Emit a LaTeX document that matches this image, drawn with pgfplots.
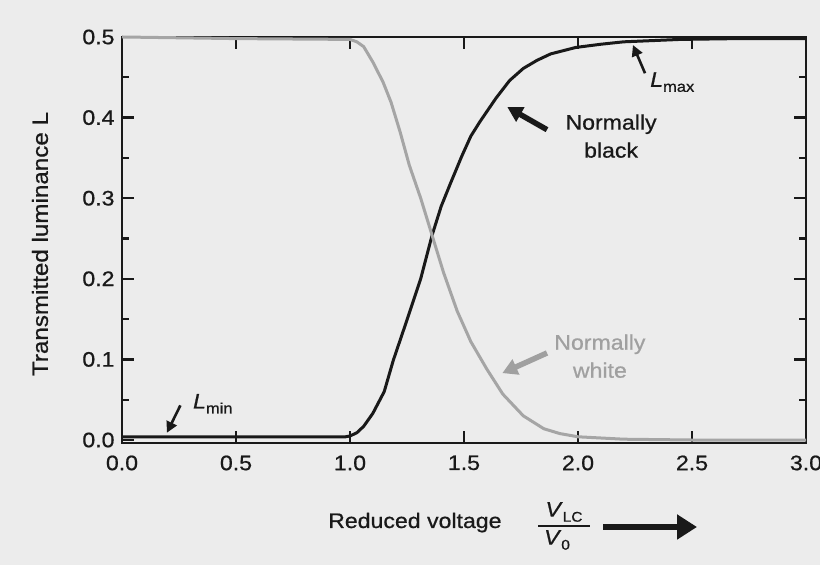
\documentclass[border=0pt]{standalone}
\usepackage{pgfplots}
\pgfplotsset{compat=1.18}
\usepackage{fontspec}
\setmainfont{Liberation Sans}[FakeStretch=1.1, FakeBold=0.7]
\usetikzlibrary{arrows.meta}
\definecolor{bg}{RGB}{236,236,236}
\definecolor{curvegray}{RGB}{165,165,165}
\definecolor{txtgray}{RGB}{160,160,160}
\definecolor{ink}{RGB}{25,25,25}
\newcommand{\fs}[1]{\fontsize{#1bp}{1.2\dimexpr #1bp\relax}\selectfont}

\pgfplotstableread{
x y
0.00 0.004
0.50 0.004
0.98 0.004
1.00 0.005
1.03 0.009
1.06 0.017
1.10 0.033
1.15 0.060
1.19 0.099
1.25 0.149
1.31 0.200
1.36 0.254
1.40 0.290
1.44 0.318
1.49 0.352
1.53 0.377
1.57 0.395
1.64 0.424
1.70 0.446
1.76 0.461
1.82 0.471
1.88 0.479
1.99 0.487
2.10 0.491
2.20 0.494
2.45 0.497
2.70 0.498
3.00 0.498
}\blackdata

\pgfplotstableread{
x y
0.00 0.500
0.50 0.498
1.00 0.497
1.03 0.494
1.06 0.488
1.10 0.469
1.145 0.444
1.18 0.419
1.22 0.382
1.26 0.341
1.31 0.300
1.36 0.254
1.41 0.208
1.47 0.160
1.53 0.122
1.60 0.088
1.67 0.057
1.76 0.030
1.85 0.014
1.92 0.008
2.00 0.004
2.20 0.001
2.50 0.000
3.00 0.000
}\whitedata

\begin{document}
\begin{tikzpicture}[x=1bp,y=1bp]
\fill[bg] (0,0) rectangle (820,565);
\useasboundingbox (0,0) rectangle (820,565);
\begin{axis}[
  at={(122bp,122bp)}, anchor=south west,
  scale only axis, width=684bp, height=406bp,
  xmin=0, xmax=3, ymin=-0.0037, ymax=0.5,
  xtick={0,0.5,...,3.0},
  ytick={0,0.1,...,0.5},
  minor y tick num=1,
  tick align=inside,
  tick pos=both,
  xticklabel pos=lower, yticklabel pos=left,
  major tick length=12bp, minor tick length=7bp,
  every tick/.style={line width=2.2bp, ink},
  axis line style={line width=2.6bp, ink},
  ticklabel style={font=\fs{21}, ink,
    /pgf/number format/fixed, /pgf/number format/fixed zerofill,
    /pgf/number format/precision=1,
    /pgf/number format/assume math mode=true},
  xticklabel style={yshift=-9bp},
  yticklabel style={xshift=-4bp},
  clip=false,
]
\addplot[ink, line width=3bp, line join=round] table[x=x,y=y] {\blackdata};
\addplot[curvegray, line width=3bp, line join=round] table[x=x,y=y] {\whitedata};

% L_max
\draw[ink, line width=2.6bp, -{Triangle[length=11bp,width=11bp]}] (axis cs:2.294,0.455) -- (axis cs:2.241,0.490);
\node[anchor=west, inner sep=0, ink, font=\fs{21}] at (axis cs:2.316,0.444) {\textit{L}\raisebox{-5bp}{\fs{15}max}};
% Normally black
\draw[ink, line width=5.5bp, -{Triangle[length=15bp,width=16bp]}] (axis cs:1.864,0.385) -- (axis cs:1.690,0.413);
\node[align=center, ink, font=\fontsize{21bp}{28bp}\selectfont, inner sep=0] at (axis cs:2.145,0.377) {Normally\\black};
% Normally white
\draw[txtgray, line width=5.5bp, -{Triangle[length=15bp,width=16bp]}] (axis cs:1.864,0.108) -- (axis cs:1.668,0.083);
\node[align=center, txtgray, font=\fontsize{21bp}{28bp}\selectfont, inner sep=0] at (axis cs:2.096,0.104) {Normally\\white};
% L_min
\draw[ink, line width=2.6bp, -{Triangle[length=11bp,width=11bp]}] (axis cs:0.256,0.043) -- (axis cs:0.197,0.009);
\node[anchor=west, inner sep=0, ink, font=\fs{21}] at (axis cs:0.311,0.045) {\textit{L}\raisebox{-5bp}{\fs{15}min}};
\end{axis}

% y label
\node[rotate=90, ink, font=\fs{22}] at (40,321) {Transmitted luminance L};
% x label
\node[anchor=base west, inner sep=0, ink, font=\fs{21}] at (328,37) {Reduced voltage};
\draw[ink, line width=1.8bp] (538,39) -- (590,39);
\node[anchor=south, inner sep=0, ink, font=\fs{21}] at (564,43) {\textit{V}\raisebox{-5bp}{\fs{14}LC}};
\node[anchor=north, inner sep=0, ink, font=\fs{21}] at (557,35) {\textit{V}\raisebox{-5bp}{\fs{14}0}};
\draw[ink, line width=6.5bp, -{Triangle[length=20bp,width=24bp]}] (603,38) -- (697,38);
\end{tikzpicture}
\end{document}
